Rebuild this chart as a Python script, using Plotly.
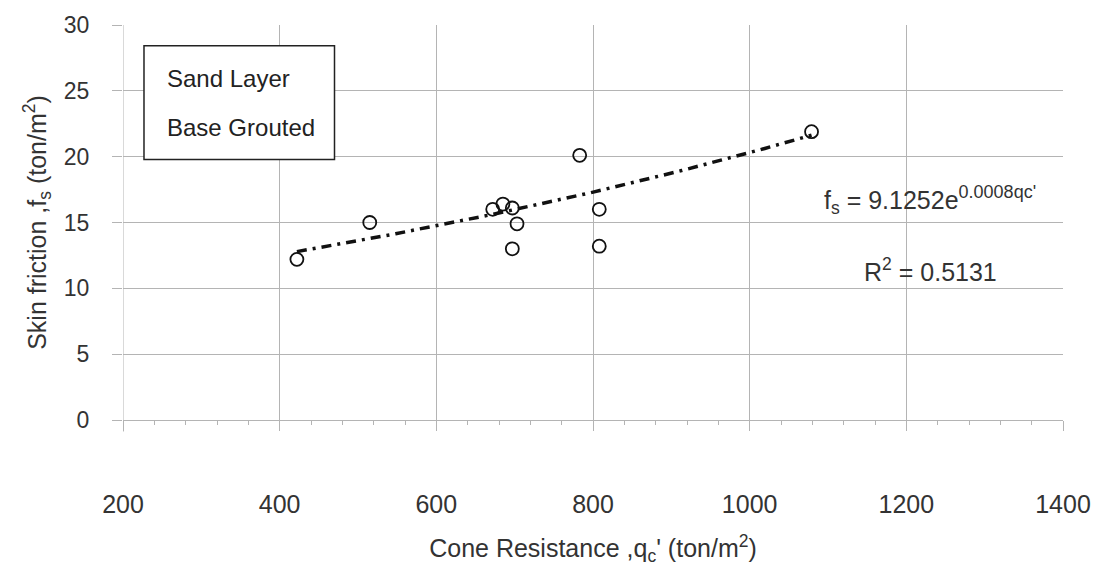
import numpy as np
import plotly.graph_objects as go

# Measured points: cone resistance vs. skin friction (sand layer, base grouted piles)
qc_values = [422, 515, 672, 685, 697, 703, 697, 783, 808, 808, 1079]
fs_values = [12.2, 15.0, 16.0, 16.4, 16.1, 14.9, 13.0, 20.1, 16.0, 13.2, 21.9]

# Exponential trendline fs = a * exp(b * qc)
fit_a = 9.1252
fit_b = 0.0008
r_squared = 0.5131

x_ticks = [200, 400, 600, 800, 1000, 1200, 1400]
y_ticks = [0, 5, 10, 15, 20, 25, 30]

FONT = "Liberation Sans, Arial, sans-serif"
GRID = "#b4b4b4"
TEXT = "#333333"

qc_line = np.linspace(min(qc_values), max(qc_values), 100)
fs_line = fit_a * np.exp(fit_b * qc_line)

fig = go.Figure()

fig.add_trace(go.Scatter(
    x=qc_line, y=fs_line, mode="lines",
    line=dict(color="#111111", width=3.5, dash="10px,6px,3px,6px"),
    hoverinfo="skip", showlegend=False,
))

fig.add_trace(go.Scatter(
    x=qc_values, y=fs_values, mode="markers",
    marker=dict(symbol="circle-open", size=13, color="#111111",
                line=dict(width=1.8, color="#111111")),
    showlegend=False,
))

# Boxed caption in the upper-left corner
fig.add_shape(type="rect", xref="x", yref="y",
              x0=226.8, x1=470, y0=19.78, y1=28.43,
              line=dict(color="#222222", width=1.5), fillcolor="white", layer="above")
fig.add_annotation(x=253.6, y=25.9, xref="x", yref="y", text="Sand Layer",
                   showarrow=False, xanchor="left", yanchor="middle",
                   font=dict(family=FONT, size=24, color="#222222"))
fig.add_annotation(x=253.6, y=22.2, xref="x", yref="y", text="Base Grouted",
                   showarrow=False, xanchor="left", yanchor="middle",
                   font=dict(family=FONT, size=24, color="#222222"))

# Trendline equation and coefficient of determination
fig.add_annotation(x=1092, y=16.7, xref="x", yref="y",
                   text=f"f<sub>s</sub> = {fit_a:.4f}e<sup><span style='font-size:18px'>{fit_b:.4f}qc'</span></sup>",
                   showarrow=False, xanchor="left", yanchor="middle",
                   font=dict(family=FONT, size=25, color=TEXT))
fig.add_annotation(x=1144, y=11.4, xref="x", yref="y",
                   text=f"R<sup>2</sup> = {r_squared:.4f}",
                   showarrow=False, xanchor="left", yanchor="middle",
                   font=dict(family=FONT, size=25, color=TEXT))

fig.update_layout(
    width=1104, height=570,
    margin=dict(l=123, r=41, t=20, b=148),
    paper_bgcolor="white", plot_bgcolor="white",
    font=dict(family=FONT, color=TEXT),
)

fig.update_xaxes(
    range=[200, 1400], tickvals=x_ticks,
    showgrid=True, gridcolor=GRID, gridwidth=1,
    showline=False, zeroline=False,
    ticks="outside", ticklen=10, tickcolor=GRID,
    minor=dict(dtick=40, ticks="outside", ticklen=4, tickcolor=GRID, showgrid=False),
    ticklabelstandoff=52,
    tickfont=dict(family=FONT, size=25, color=TEXT),
    title=dict(text="Cone Resistance ,q<sub>c</sub>' (ton/m<sup>2</sup>)",
               font=dict(family=FONT, size=25, color=TEXT), standoff=22),
)

fig.update_yaxes(
    range=[0, 30], tickvals=y_ticks,
    showgrid=True, gridcolor=GRID, gridwidth=1,
    showline=False, zeroline=True, zerolinecolor=GRID, zerolinewidth=1,
    ticks="outside", ticklen=10, tickcolor=GRID,
    ticklabelstandoff=18,
    tickfont=dict(family=FONT, size=23, color=TEXT),
    title=dict(text="Skin friction ,f<sub>s</sub> (ton/m<sup>2</sup>)",
               font=dict(family=FONT, size=25, color=TEXT), standoff=10),
)

# Left boundary of the plotting area
fig.add_shape(type="line", xref="x", yref="paper", x0=200, x1=200, y0=-0.03, y1=1,
              line=dict(color=GRID, width=1))

fig.write_html("out.html")
